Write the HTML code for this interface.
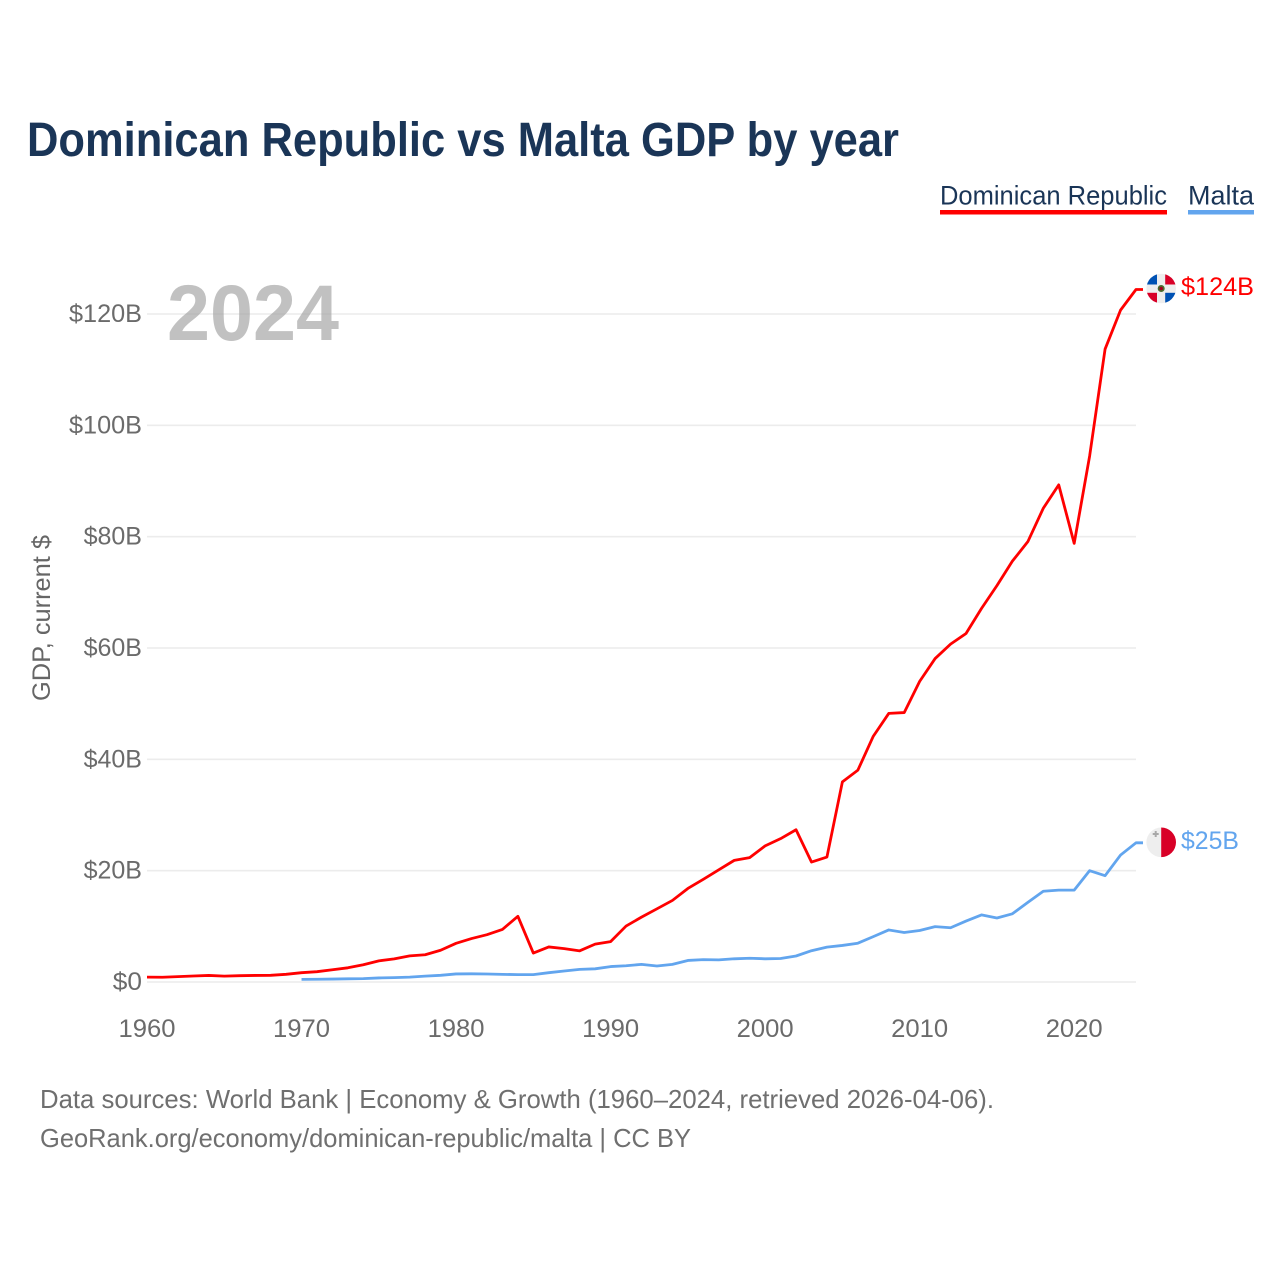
<!DOCTYPE html>
<html lang="en">
<head>
<meta charset="utf-8">
<title>Dominican Republic vs Malta GDP by year</title>
<style>
html,body{margin:0;padding:0;background:#fff;}
svg{display:block;}
text{font-family:"Liberation Sans",sans-serif;}
</style>
</head>
<body>
<svg id="chart" width="1280" height="1280" viewBox="0 0 1280 1280" xmlns="http://www.w3.org/2000/svg">
  <defs>
    <clipPath id="clip-do"><circle cx="1161.200" cy="288.500" r="14.800"/></clipPath>
    <clipPath id="clip-mt"><circle cx="1161.200" cy="842.300" r="14.800"/></clipPath>
  </defs>
  <rect width="1280" height="1280" fill="#ffffff"/>
  <text x="27" y="156" font-size="48" font-weight="700" fill="#1a3557" textLength="872" lengthAdjust="spacingAndGlyphs">Dominican Republic vs Malta GDP by year</text>

  <g>
    <g>
      <text x="940" y="204.500" font-size="27" fill="#1a3557" textLength="227" lengthAdjust="spacingAndGlyphs">Dominican Republic</text>
      <rect x="940" y="210" width="227" height="4.500" fill="#ff0000"/>
    </g>
    <g>
      <text x="1188" y="204.500" font-size="27" fill="#1a3557" textLength="66" lengthAdjust="spacingAndGlyphs">Malta</text>
      <rect x="1188" y="210" width="66" height="4.500" fill="#62a5ee"/>
    </g>
  </g>

  <g id="grid"></g>
  <g id="yticks"></g>
  <g id="xticks"></g>

  <text transform="translate(50,618) rotate(-90)" text-anchor="middle" font-size="25" fill="#666666" textLength="166" lengthAdjust="spacingAndGlyphs">GDP, current $</text>

  <text x="167" y="340" font-size="79" font-weight="700" fill="#a6a6a6" fill-opacity="0.7" textLength="172" lengthAdjust="spacingAndGlyphs">2024</text>

  <g id="series"></g>

  <g clip-path="url(#clip-do)">
    <rect x="1146" y="273" width="31" height="31" fill="#eeeeee"/>
    <rect x="1146" y="273" width="11" height="11.500" fill="#0052b4"/>
    <rect x="1165.200" y="273" width="12" height="11.500" fill="#d80027"/>
    <rect x="1146" y="292.800" width="11" height="12" fill="#d80027"/>
    <rect x="1165.200" y="292.800" width="12" height="12" fill="#0052b4"/>
    <circle cx="1161.200" cy="288.500" r="3.500" fill="#496e2d"/>
    <circle cx="1161.200" cy="288.500" r="1.800" fill="#a2001d"/>
  </g>
  <g clip-path="url(#clip-mt)">
    <rect x="1146" y="827" width="15.200" height="31" fill="#eeeeee"/>
    <rect x="1161.200" y="827" width="16" height="31" fill="#d80027"/>
    <path d="M1155.700 831v6 M1152.700 834h6" stroke="#a8a8a8" stroke-width="2" fill="none"/>
  </g>

  <text id="label-do" x="1181" y="295" font-size="25" fill="#ff0000" textLength="73" lengthAdjust="spacingAndGlyphs">$124B</text>
  <text id="label-mt" x="1181" y="849" font-size="25" fill="#62a5ee" textLength="58" lengthAdjust="spacingAndGlyphs">$25B</text>

  <text x="40" y="1108" font-size="26" fill="#6f6f6f" textLength="954" lengthAdjust="spacingAndGlyphs">Data sources: World Bank | Economy &amp; Growth (1960–2024, retrieved 2026-04-06).</text>
  <text x="40" y="1147" font-size="26" fill="#6f6f6f" textLength="651" lengthAdjust="spacingAndGlyphs">GeoRank.org/economy/dominican-republic/malta | CC BY</text>
</svg>
<script>
const startYear = 1960;
const endYear = 2024;
const maltaStartYear = 1970;
const yTickValues = [0, 20, 40, 60, 80, 100, 120];
const yTickLabels = ["$0", "$20B", "$40B", "$60B", "$80B", "$100B", "$120B"];
const xTickYears = [1960, 1970, 1980, 1990, 2000, 2010, 2020];
const dominicanGdp = [0.87,0.85,0.97,1.08,1.18,1.05,1.13,1.18,1.2,1.38,1.67,1.85,2.2,2.55,3.1,3.8,4.15,4.7,4.9,5.7,6.95,7.8,8.5,9.45,11.8,5.2,6.3,6.0,5.6,6.8,7.25,10.05,11.65,13.15,14.65,16.8,18.45,20.15,21.85,22.35,24.45,25.75,27.35,21.55,22.45,35.95,38.05,44.15,48.25,48.4,54.0,58.1,60.7,62.6,67.1,71.2,75.6,79.1,85.1,89.3,78.8,94.5,113.7,120.7,124.4];
const maltaGdp = [0.47,0.49,0.53,0.57,0.61,0.73,0.79,0.87,1.05,1.2,1.45,1.47,1.44,1.37,1.33,1.32,1.67,1.97,2.27,2.37,2.77,2.92,3.17,2.87,3.17,3.87,4.02,3.97,4.17,4.27,4.17,4.22,4.67,5.62,6.27,6.57,6.97,8.15,9.35,8.9,9.25,9.95,9.75,10.95,12.05,11.5,12.25,14.3,16.3,16.5,16.5,20.0,19.1,22.8,25.0];

const SVG_NS = "http://www.w3.org/2000/svg";
function xScale(year) { return 147 + (year - 1960) * (1136 - 147) / 64; }
function yScale(value) { return 982 - value * (982 - 314) / 120; }

function make(tag, attrs, parent) {
  const el = document.createElementNS(SVG_NS, tag);
  for (const k in attrs) el.setAttribute(k, attrs[k]);
  parent.appendChild(el);
  return el;
}

const gridGroup = document.getElementById("grid");
const yGroup = document.getElementById("yticks");
const xGroup = document.getElementById("xticks");
const seriesGroup = document.getElementById("series");

yTickValues.forEach(function (v, i) {
  const y = yScale(v);
  const line = make("line", { x1: 147, x2: 1136, y1: y, y2: y, stroke: "#ececec", "stroke-width": 1.6 }, gridGroup);
  
  
  const t = make("text", { x: 142, y: y + 8, "text-anchor": "end", "font-size": 25, fill: "#6b6b6b", textLength: yTickLabels[i].length * 14.6, lengthAdjust: "spacingAndGlyphs" }, yGroup);
  
  
  t.textContent = yTickLabels[i];
});

xTickYears.forEach(function (yr) {
  const t = make("text", { x: xScale(yr), y: 1037, "text-anchor": "middle", "font-size": 25, fill: "#6b6b6b", textLength: 57, lengthAdjust: "spacingAndGlyphs" }, xGroup);
  
  
  t.textContent = String(yr);
});

function linePoints(values, firstYear) {
  return values.map(function (v, i) {
    return xScale(firstYear + i).toFixed(2) + "," + yScale(v).toFixed(2);
  });
}

function drawSeries(values, firstYear, color) {
  const pts = linePoints(values, firstYear);
  const last = values[values.length - 1];
  pts.push((xScale(firstYear + values.length - 1) + 7).toFixed(2) + "," + yScale(last).toFixed(2));
  return make("polyline", { points: pts.join(" "), fill: "none", stroke: color, "stroke-width": 2.8, "stroke-linejoin": "round" }, seriesGroup);
}

const maltaLine = drawSeries(maltaGdp, maltaStartYear, "#62a5ee");



const dominicanLine = drawSeries(dominicanGdp, startYear, "#ff0000");


</script>
</body>
</html>
